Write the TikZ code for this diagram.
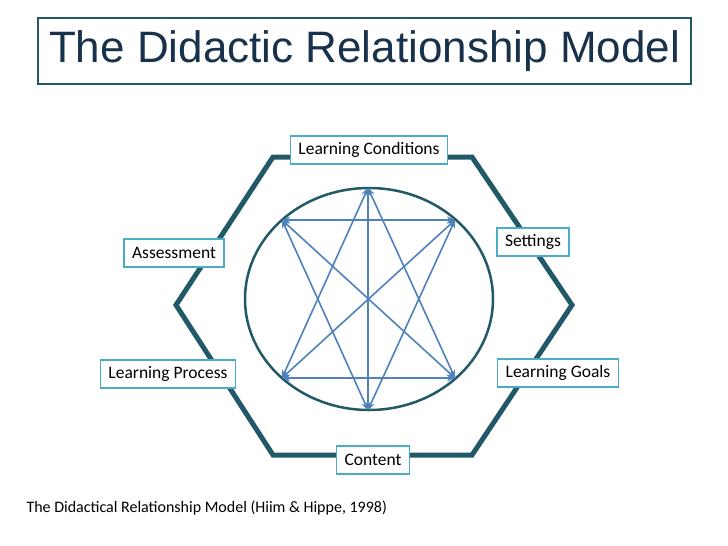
\documentclass[tikz,border=0pt]{standalone}
\usepackage{fontspec}
\setmainfont{Carlito}
\newfontfamily\titlefont{Liberation Sans}
\usetikzlibrary{arrows.meta}
\definecolor{hexc}{HTML}{215968}
\definecolor{boxc}{HTML}{4BACC6}
\definecolor{arrc}{HTML}{4F81BD}
\definecolor{titc}{HTML}{17324A}
\begin{document}
\begin{tikzpicture}[x=1pt,y=-1pt,
  lbl/.style={draw=boxc,line width=1.5pt,fill=white,font=\fontsize{17.5}{20}\selectfont,inner xsep=8pt,inner ysep=3pt,minimum height=28pt},
  star/.style={draw=arrc,line width=1.6pt,{Stealth[length=8pt,width=7pt]}-{Stealth[length=8pt,width=7pt]}}]
\useasboundingbox (0,0) rectangle (728,546);
\node[draw=hexc,line width=1.2pt,minimum width=653pt,minimum height=66pt,font=\titlefont\fontsize{44}{50}\selectfont,text=titc] (title) at (364.5,51) {The Didactic Relationship Model};
\coordinate (h1) at (273,157); \coordinate (h2) at (472,157); \coordinate (h3) at (572,305);
\coordinate (h4) at (472,455); \coordinate (h5) at (273,455); \coordinate (h6) at (176,305);
\draw[hexc,line width=5pt,line join=miter] (h1)--(h2)--(h3)--(h4)--(h5)--(h6)--cycle;
\draw[hexc,line width=2.5pt] (369,299) ellipse (124 and 111);
\coordinate (T) at (368,188); \coordinate (B) at (368,410);
\coordinate (UL) at (282,220); \coordinate (UR) at (455,220);
\coordinate (LL) at (282,378); \coordinate (LR) at (455,378);
\foreach \a/\b in {T/B,UL/UR,LL/LR,T/LL,T/LR,B/UL,B/UR,UL/LR,UR/LL}
  \draw[star] (\a)--(\b);
\node[lbl] (lc) at (369,150) {Learning Conditions};
\node[lbl] (set) at (533,242) {Settings};
\node[lbl] (ass) at (174,253) {Assessment};
\node[lbl] (lp) at (168,374) {Learning Process};
\node[lbl] (lg) at (558,373) {Learning Goals};
\node[lbl] (con) at (373,460) {Content};
\node[anchor=west,font=\fontsize{16}{19}\selectfont] (cap) at (23,508) {The Didactical Relationship Model (Hiim \& Hippe, 1998)};
\end{tikzpicture}
\end{document}
